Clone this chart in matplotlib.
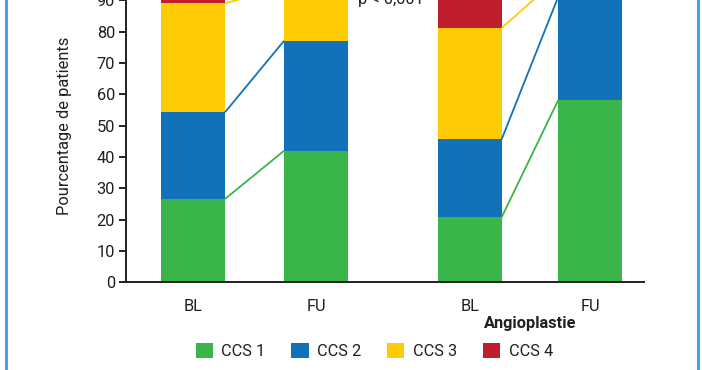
import matplotlib
matplotlib.use("Agg")
import matplotlib.pyplot as plt
from matplotlib.patches import Patch
from matplotlib.lines import Line2D
import numpy as np

plt.rcParams['font.family'] = ['Roboto', 'DejaVu Sans']

# Data
categories = ["BL", "FU", "BL", "FU"]
positions = [0, 1, 2.25, 3.23]
series_names = ["CCS 1", "CCS 2", "CCS 3", "CCS 4"]
ccs1 = [26.6, 42.0, 20.8, 58.2]
ccs2 = [27.7, 35.1, 24.9, 33.0]
ccs3 = [34.8, 17.0, 35.5, 6.0]
ccs4 = [10.9, 5.9, 18.8, 2.8]
colors = ["#39b54a", "#1172ba", "#ffcb05", "#be1e2d"]
group_label = "Angioplastie"
p_text = "p < 0,001"
ylabel = "Pourcentage de patients"
yticks = list(range(0, 101, 10))

W, H = 702, 370
TXT = '#231f20'
FS = 11.8
fig = plt.figure(figsize=(W / 100, H / 100), dpi=100)
ax = fig.add_axes([126 / W, (H - 282.3) / H, 518 / W, 313.2 / H])

width = 0.52
series = [ccs1, ccs2, ccs3, ccs4]
bottom = np.zeros(len(categories))
tops = []
for vals, col in zip(series, colors):
    ax.bar(positions, vals, width=width, bottom=bottom, color=col, edgecolor='none', zorder=2)
    bottom = bottom + np.array(vals)
    tops.append(bottom.copy())

# connecting lines (CCS1..CCS3 boundaries) within each pair
for k in range(3):
    for (i, j) in [(0, 1), (2, 3)]:
        ax.plot([positions[i] + width / 2, positions[j] - width / 2],
                [tops[k][i], tops[k][j]], color=colors[k], lw=1.3, zorder=3,
                solid_capstyle='butt')

ax.set_xlim(-0.545, 3.667)
ax.set_ylim(0, 100)
ax.set_yticks(yticks)
ax.set_xticks(positions)
ax.set_xticklabels(categories)

for s in ['top', 'right']:
    ax.spines[s].set_visible(False)
for s in ['left', 'bottom']:
    ax.spines[s].set_linewidth(1.4)
    ax.spines[s].set_color(TXT)
ax.tick_params(axis='y', length=5, width=1.4, color=TXT, labelsize=FS,
               labelcolor=TXT, pad=3)
ax.tick_params(axis='x', length=0, labelsize=FS, labelcolor=TXT, pad=12)

ax.set_ylabel(ylabel, fontsize=FS, color=TXT)
ax.yaxis.set_label_coords(-0.104, 0.5)

ax.text(1.61, 88.7, p_text, ha='center', va='baseline', fontsize=FS, color=TXT)
ax.text((positions[2] + positions[3]) / 2, -0.13, group_label, transform=ax.get_xaxis_transform(),
        ha='center', va='center', fontsize=FS, fontweight='bold', color=TXT)

handles = [Patch(facecolor=c, edgecolor='none') for c in colors]
fig.legend(handles, series_names, loc='center', bbox_to_anchor=(0.533, 19.3 / H),
           ncol=4, frameon=False, fontsize=FS, handlelength=1.05, handleheight=1.05,
           handletextpad=0.5, columnspacing=1.6, labelcolor=TXT)

# frame lines
fig.add_artist(Line2D([5.5 / W, 5.5 / W], [0, 1], color='#4a9fdc', lw=2.2))
fig.add_artist(Line2D([697.5 / W, 697.5 / W], [0, 1], color='#4a9fdc', lw=2.2))

fig.savefig("out.png", dpi=100, facecolor='white')
